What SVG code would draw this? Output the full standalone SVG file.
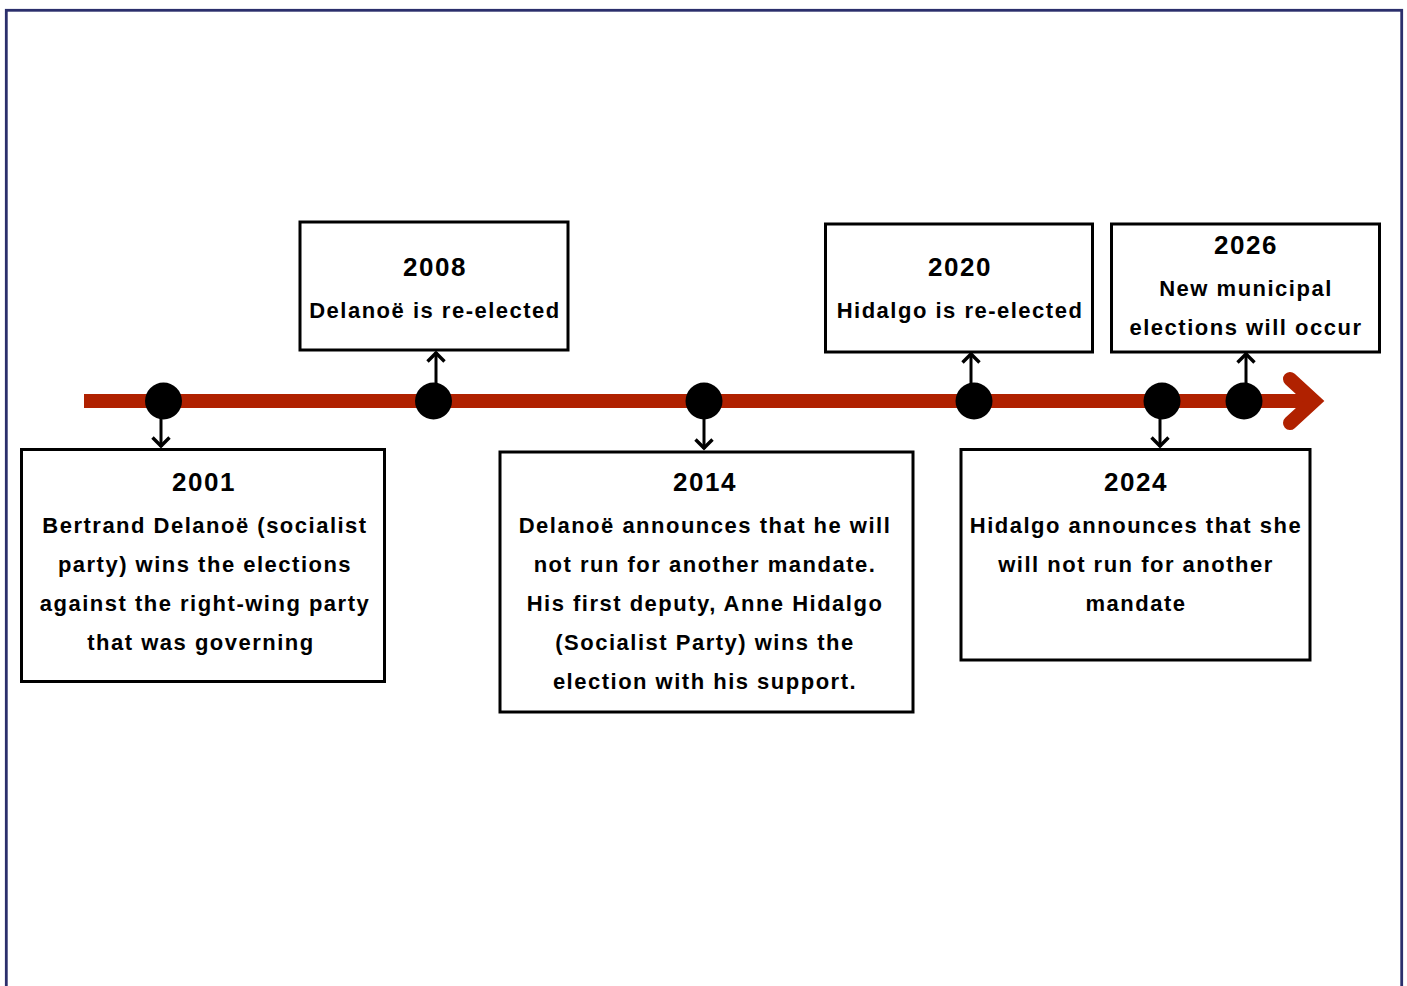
<svg xmlns="http://www.w3.org/2000/svg" width="1407" height="986" viewBox="0 0 1407 986">
<style>
.frame{fill:#fff;stroke:#2b2f6c;stroke-width:2.8}
.box{fill:#fff;stroke:#000;stroke-width:3}
.dot{fill:#000}
.yr{font-family:"Liberation Sans",Arial,sans-serif;font-weight:bold;font-size:26px;letter-spacing:1.5px;text-anchor:middle;fill:#000}
.tx{font-family:"Liberation Sans",Arial,sans-serif;font-weight:bold;font-size:22px;letter-spacing:1.5px;text-anchor:middle;fill:#000}
.conn{stroke:#000;stroke-width:3;fill:none;marker-end:url(#ah)}
.axis{stroke:#b02100;stroke-width:14;fill:none;stroke-linecap:round}
</style>
<defs>
<marker id="ah" markerUnits="userSpaceOnUse" viewBox="-12 -10 14 20" markerWidth="14" markerHeight="20" refX="0" refY="0" orient="auto">
<path d="M-9.5,-8.5 L-1,0 L-9.5,8.5" fill="none" stroke="#000" stroke-width="3.4" stroke-linejoin="miter"/>
</marker>
</defs>
<rect class="frame" x="6.3" y="10.3" width="1395.4" height="1000"/>
<g id="timeline">
<line class="axis" x1="91" y1="401" x2="1308" y2="401" stroke-linecap="butt"/>
<line x1="84" y1="401" x2="92" y2="401" stroke="#b02100" stroke-width="14"/>
<path class="axis" d="M1290,379 L1314,401 L1290,423" stroke-linejoin="miter"/>
</g>
<g id="connectors">
<line class="conn" x1="161" y1="401" x2="161" y2="447"/>
<line class="conn" x1="436" y1="401" x2="436" y2="352"/>
<line class="conn" x1="704" y1="401" x2="704" y2="449"/>
<line class="conn" x1="971" y1="401" x2="971" y2="353"/>
<line class="conn" x1="1160" y1="401" x2="1160" y2="447"/>
<line class="conn" x1="1246" y1="401" x2="1246" y2="353"/>
</g>
<g id="node-2001">
<circle class="dot" cx="163.5" cy="401" r="18.5"/>
<rect class="box" x="21.5" y="449.5" width="363" height="232"/>
<text class="yr" x="204" y="491">2001</text>
<text class="tx" x="205" y="533">Bertrand Delanoë (socialist</text>
<text class="tx" x="205" y="572">party) wins the elections</text>
<text class="tx" x="205" y="611">against the right-wing party</text>
<text class="tx" x="201" y="650">that was governing</text>
</g>
<g id="node-2008">
<circle class="dot" cx="433.5" cy="401" r="18.5"/>
<rect class="box" x="300" y="222" width="268" height="128"/>
<text class="yr" x="435" y="276">2008</text>
<text class="tx" x="435" y="318">Delanoë is re-elected</text>
</g>
<g id="node-2014">
<circle class="dot" cx="704" cy="401" r="18.5"/>
<rect class="box" x="500" y="452" width="413" height="260"/>
<text class="yr" x="705" y="491">2014</text>
<text class="tx" x="705" y="533">Delanoë announces that he will</text>
<text class="tx" x="705" y="572">not run for another mandate.</text>
<text class="tx" x="705" y="611">His first deputy, Anne Hidalgo</text>
<text class="tx" x="705" y="650">(Socialist Party) wins the</text>
<text class="tx" x="705" y="689">election with his support.</text>
</g>
<g id="node-2020">
<circle class="dot" cx="974" cy="401" r="18.5"/>
<rect class="box" x="825.5" y="224" width="267" height="128"/>
<text class="yr" x="960" y="276">2020</text>
<text class="tx" x="960" y="318">Hidalgo is re-elected</text>
</g>
<g id="node-2024">
<circle class="dot" cx="1162" cy="401" r="18.5"/>
<rect class="box" x="961" y="449.5" width="349" height="210.5"/>
<text class="yr" x="1136" y="491">2024</text>
<text class="tx" x="1136" y="533">Hidalgo announces that she</text>
<text class="tx" x="1136" y="572">will not run for another</text>
<text class="tx" x="1136" y="611">mandate</text>
</g>
<g id="node-2026">
<circle class="dot" cx="1244" cy="401" r="18.5"/>
<rect class="box" x="1111.5" y="224" width="268" height="128"/>
<text class="yr" x="1246" y="254">2026</text>
<text class="tx" x="1246" y="296">New municipal</text>
<text class="tx" x="1246" y="335">elections will occur</text>
</g>
</svg>
